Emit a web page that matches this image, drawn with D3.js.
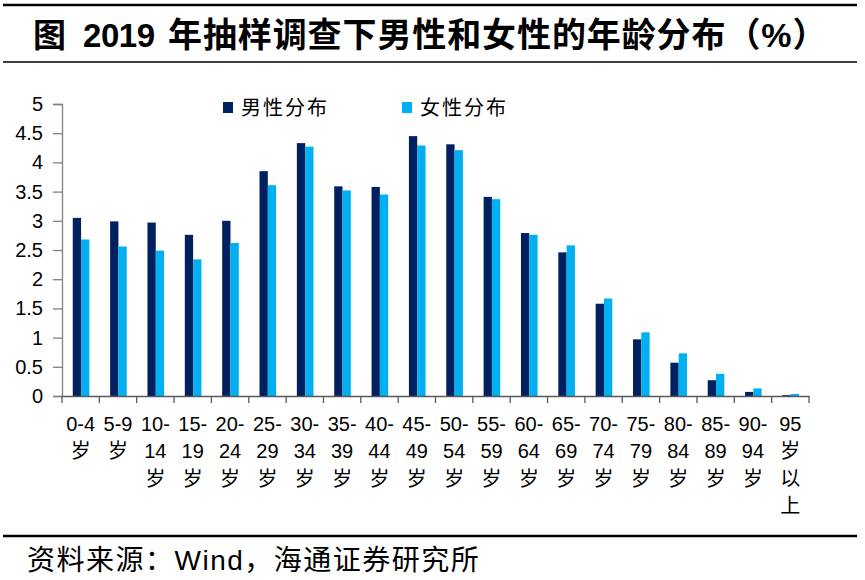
<!DOCTYPE html>
<html><head><meta charset="utf-8">
<script src="https://cdn.jsdelivr.net/npm/d3@7/dist/d3.min.js"></script>
<style>
html,body{margin:0;padding:0;background:#fff;}
svg{display:block;}
</style></head>
<body><svg id="chart" width="865" height="580"></svg>
<script>
// ---- data ----
const categories = ["0-4岁","5-9岁","10-14岁","15-19岁","20-24岁","25-29岁","30-34岁","35-39岁","40-44岁","45-49岁","50-54岁","55-59岁","60-64岁","65-69岁","70-74岁","75-79岁","80-84岁","85-89岁","90-94岁","95岁以上"];
const xTickLines = [["0-4","岁"],["5-9","岁"],["10-","14","岁"],["15-","19","岁"],["20-","24","岁"],["25-","29","岁"],["30-","34","岁"],["35-","39","岁"],["40-","44","岁"],["45-","49","岁"],["50-","54","岁"],["55-","59","岁"],["60-","64","岁"],["65-","69","岁"],["70-","74","岁"],["75-","79","岁"],["80-","84","岁"],["85-","89","岁"],["90-","94","岁"],["95","岁","以","上"]];
const seriesNames = ["男性分布","女性分布"];
const maleValues   = [3.05,2.99,2.97,2.76,3.00,3.85,4.33,3.59,3.58,4.45,4.31,3.41,2.79,2.46,1.58,0.97,0.57,0.27,0.07,0.015];
const femaleValues = [2.68,2.56,2.49,2.34,2.62,3.61,4.27,3.52,3.45,4.29,4.21,3.37,2.76,2.58,1.67,1.09,0.73,0.38,0.13,0.035];
const yTicks = [0,0.5,1,1.5,2,2.5,3,3.5,4,4.5,5];
const titleParts = ["图","2019","年抽样调查下男性和女性的年龄分布（%）"];
const sourceText = "资料来源：Wind，海通证券研究所";

// ---- layout ----
const colors = ["#002060","#00B0F0"];
const fontLatin = "'Liberation Sans', Arial, 'Noto Sans CJK SC', sans-serif";
const svg = d3.select("#chart");
svg.append("rect").attr("width",865).attr("height",580).attr("fill","#fff");

// frame lines
[5,62,536].forEach(y=>{
  svg.append("line").attr("x1",3).attr("x2",857).attr("y1",y).attr("y2",y)
    .attr("stroke","#000").attr("stroke-width", y===62?1.5:2.5);
});

// title
const title = svg.append("text").attr("y",47).attr("font-family",fontLatin)
  .attr("font-weight","bold").attr("fill","#000");
title.append("tspan").attr("x",33).attr("font-size",33).text(titleParts[0]);
title.append("tspan").attr("x",83).attr("font-size",33).attr("textLength",72).text(titleParts[1]);
title.append("tspan").attr("x",168).attr("font-size",34).attr("letter-spacing",0.9).text(titleParts[2]);

// scales
const x0 = d3.scaleBand().domain(categories).range([62,809]).padding(0);
const bw = x0.bandwidth();
const groupW = bw*0.445;
const x1 = d3.scaleBand().domain(seriesNames).range([bw/2-groupW/2+0.4, bw/2+groupW/2+0.4]);
const y = d3.scaleLinear().domain([0,5]).range([396,104]);

// bars
const seriesData = [maleValues, femaleValues];
seriesNames.forEach((s,si)=>{
  svg.append("g").selectAll("rect").data(seriesData[si]).join("rect")
    .attr("x",(d,i)=>x0(categories[i])+x1(s))
    .attr("width",x1.bandwidth())
    .attr("y",d=>y(d))
    .attr("height",d=>y(0)-y(d))
    .attr("fill",colors[si]);
});

// y axis
const yAxis = svg.append("g").attr("transform","translate(62,0)")
  .call(d3.axisLeft(y).tickValues(yTicks).tickSize(9).tickPadding(10).tickFormat(d3.format("")));
yAxis.select(".domain").attr("stroke","#808080").attr("stroke-width",1.3);
yAxis.selectAll(".tick line").attr("stroke","#808080").attr("stroke-width",1.3);
yAxis.selectAll(".tick text").attr("font-family",fontLatin).attr("font-size",20).attr("fill","#000");

// x axis
const xAxis = svg.append("g").attr("transform","translate(0,396)")
  .call(d3.axisBottom(x0).tickSize(0).tickFormat(""));
xAxis.select(".domain").attr("stroke","#595959").attr("stroke-width",1.5);
const boundaries = categories.map(c=>x0(c)).concat([x0.range()[1]]);
xAxis.selectAll(".bnd").data(boundaries).join("line").attr("class","bnd")
  .attr("x1",d=>d).attr("x2",d=>d).attr("y1",0).attr("y2",7)
  .attr("stroke","#595959").attr("stroke-width",1.3);
// tick labels
const lbl = svg.append("g").selectAll("text").data(categories).join("text")
  .attr("text-anchor","middle").attr("font-family",fontLatin).attr("font-size",20).attr("fill","#000")
  .attr("transform",c=>`translate(${x0(c)+bw/2},0)`);
lbl.each(function(c,i){
  const t = d3.select(this);
  xTickLines[i].forEach((ln,k)=>{
    t.append("tspan").attr("x",0).attr("y",431+k*27.3).text(ln);
  });
});

// legend
seriesNames.forEach((s,si)=>{
  const lx = [223,402][si];
  svg.append("rect").attr("x",lx).attr("y",102).attr("width",10).attr("height",11).attr("fill",colors[si]);
  svg.append("text").attr("x",lx+18).attr("y",115).attr("font-family","'Noto Sans CJK SC', sans-serif")
    .attr("font-size",20).attr("letter-spacing",2).attr("fill","#000").text(s);
});

// source
svg.append("text").attr("x",27).attr("y",570).attr("font-family",fontLatin)
  .attr("font-size",28).attr("letter-spacing",1.5).attr("fill","#000").text(sourceText);
</script></body></html>
